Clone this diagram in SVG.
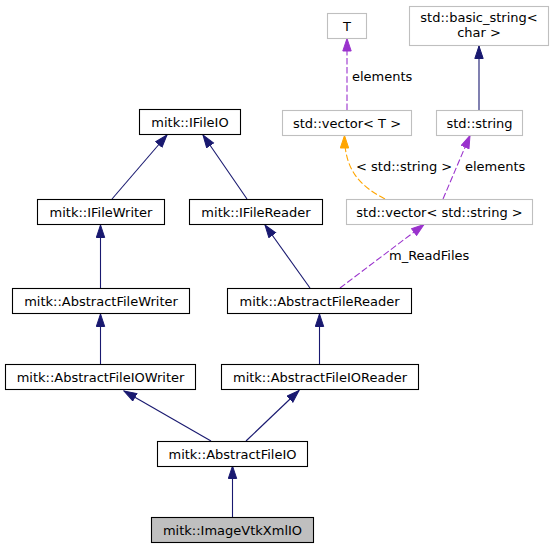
<svg xmlns="http://www.w3.org/2000/svg" width="554" height="548" viewBox="0 0 554 548">
<style>
text{font-family:"DejaVu Sans","Liberation Sans",sans-serif;font-size:13px;fill:#000;text-anchor:middle}
.lbl{text-anchor:start}
.n rect{fill:#fff;stroke:#000;stroke-width:1.1}
.g rect{fill:#fff;stroke:#bfbfbf;stroke-width:1.1}
.cur rect{fill:#bfbfbf;stroke:#000;stroke-width:1.1}
.inh{fill:none;stroke:#191970;stroke-width:1.1}
.use{fill:none;stroke:#9a32cd;stroke-width:1.1;stroke-dasharray:6.5,2.6}
.tpl{fill:none;stroke:#ffa500;stroke-width:1.1;stroke-dasharray:6.5,2.6}
</style>
<defs>
<marker id="aN" markerUnits="userSpaceOnUse" markerWidth="14" markerHeight="11" refX="13" refY="4.7" orient="auto"><path d="M0.5,0.5 L13,4.7 L0.5,8.9 z" fill="#191970" stroke="#191970"/></marker>
<marker id="aP" markerUnits="userSpaceOnUse" markerWidth="14" markerHeight="11" refX="13" refY="4.7" orient="auto"><path d="M0.5,0.5 L13,4.7 L0.5,8.9 z" fill="#9a32cd" stroke="#9a32cd"/></marker>
<marker id="aO" markerUnits="userSpaceOnUse" markerWidth="14" markerHeight="11" refX="13" refY="4.7" orient="auto"><path d="M0.5,0.5 L13,4.7 L0.5,8.9 z" fill="#ffa500" stroke="#ffa500"/></marker>
</defs>
<rect width="554" height="548" fill="#fff"/>
<g id="edges">
<path class="inh" marker-end="url(#aN)" d="M232.5,517 L232.5,466"/>
<path class="inh" marker-end="url(#aN)" d="M211,441 L124,391"/>
<path class="inh" marker-end="url(#aN)" d="M246,441 L299,390.5"/>
<path class="inh" marker-end="url(#aN)" d="M100.5,364 L100.5,314"/>
<path class="inh" marker-end="url(#aN)" d="M319.5,364 L319.5,314"/>
<path class="inh" marker-end="url(#aN)" d="M100.5,288 L100.5,225"/>
<path class="inh" marker-end="url(#aN)" d="M310,288 L265,225"/>
<path class="inh" marker-end="url(#aN)" d="M112,199 L167,135"/>
<path class="inh" marker-end="url(#aN)" d="M247,199 L203,135"/>
<path class="inh" marker-end="url(#aN)" d="M479,110 L479,46"/>
<path class="use" marker-end="url(#aP)" d="M340,288 L424,224.5"/>
<path class="use" marker-end="url(#aP)" d="M443,199 L470,135.5"/>
<path class="use" marker-end="url(#aP)" d="M347,110 L347,38.5"/>
<path class="tpl" marker-end="url(#aO)" d="M385,199 C362,187 344.5,172 344.5,135.5"/>
<text class="lbl" x="389" y="260">m_ReadFiles</text>
<text class="lbl" x="465" y="171">elements</text>
<text class="lbl" x="356" y="171">&lt; std::string &gt;</text>
<text class="lbl" x="352" y="81">elements</text>
</g>
<g id="n_T" class="g"><rect x="327.5" y="13.5" width="39" height="25"/><text x="347" y="30.5">T</text></g>
<g id="n_basic_string" class="g"><rect x="409.5" y="6.5" width="139" height="39"/><text x="479" y="21.5">std::basic_string&lt;</text><text x="479" y="36.5">char &gt;</text></g>
<g id="n_vectorT" class="g"><rect x="282.5" y="110.5" width="129" height="25"/><text x="347" y="127.5">std::vector&lt; T &gt;</text></g>
<g id="n_string" class="g"><rect x="436.5" y="110.5" width="86" height="25"/><text x="479.5" y="127.5">std::string</text></g>
<g id="n_vector_string" class="g"><rect x="346.5" y="199.5" width="186" height="25"/><text x="439.5" y="216.5">std::vector&lt; std::string &gt;</text></g>
<g id="n_IFileIO" class="n"><rect x="139.5" y="109.5" width="101" height="25"/><text x="190" y="126.5">mitk::IFileIO</text></g>
<g id="n_IFileWriter" class="n"><rect x="37.5" y="199.5" width="127" height="25"/><text x="101" y="216.5">mitk::IFileWriter</text></g>
<g id="n_IFileReader" class="n"><rect x="189.5" y="199.5" width="133" height="25"/><text x="256" y="216.5">mitk::IFileReader</text></g>
<g id="n_AbstractFileWriter" class="n"><rect x="12.5" y="288.5" width="177" height="25"/><text x="101" y="305.5">mitk::AbstractFileWriter</text></g>
<g id="n_AbstractFileReader" class="n"><rect x="227.5" y="288.5" width="184" height="25"/><text x="319.5" y="305.5">mitk::AbstractFileReader</text></g>
<g id="n_AbstractFileIOWriter" class="n"><rect x="5.5" y="364.5" width="190" height="25"/><text x="100.5" y="381.5">mitk::AbstractFileIOWriter</text></g>
<g id="n_AbstractFileIOReader" class="n"><rect x="221.5" y="364.5" width="197" height="25"/><text x="320" y="381.5">mitk::AbstractFileIOReader</text></g>
<g id="n_AbstractFileIO" class="n"><rect x="157.5" y="441.5" width="150" height="25"/><text x="232.5" y="458.5">mitk::AbstractFileIO</text></g>
<g id="n_ImageVtkXmlIO" class="cur"><rect x="151.5" y="517.5" width="162" height="25"/><text x="232.5" y="534.5">mitk::ImageVtkXmlIO</text></g>
</svg>
